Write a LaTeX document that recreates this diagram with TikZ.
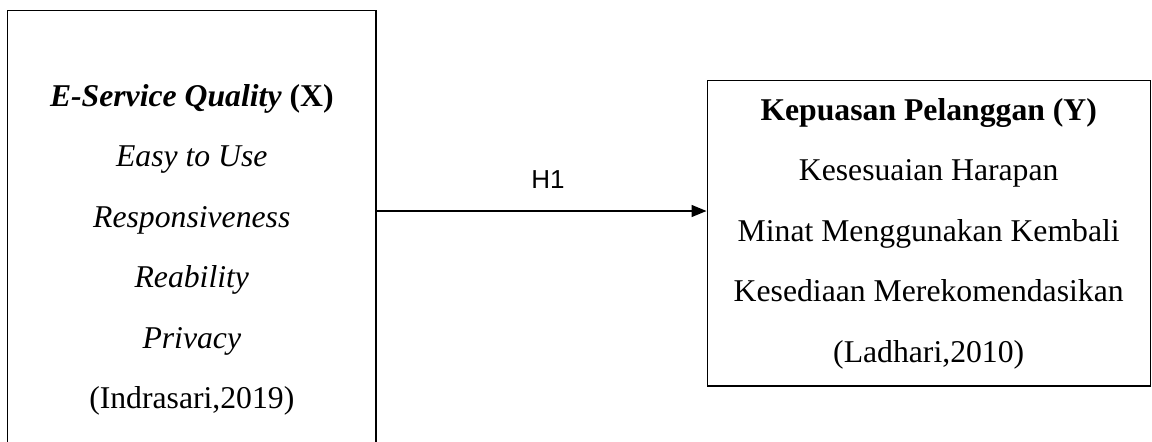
\documentclass[tikz,border=0pt]{standalone}
\usepackage{fontspec}
\setmainfont{Liberation Serif}
\newfontfamily\arialfont{Liberation Sans}
\usetikzlibrary{arrows.meta}
\tikzset{
  boxstyle/.style={draw=black, line width=1.4pt, rectangle, inner sep=0pt, align=center,
    font=\fontsize{31.7}{60.5}\selectfont},
  arr/.style={line width=1.4pt, -{Triangle[length=15pt,width=12pt]}},
  hlabel/.style={font=\arialfont\fontsize{26}{30}\selectfont, inner sep=0pt}
}
\begin{document}
\begin{tikzpicture}[x=1pt,y=-1pt]
\useasboundingbox (0,0) rectangle (1152,442);
\node[boxstyle, minimum width=368.5pt, minimum height=478.6pt] (X) at (191.8,250)
  {\textbf{\textit{E-Service Quality}} \textbf{(X)}\\
   \textit{Easy to Use}\\
   \textit{Responsiveness}\\
   \textit{Reability}\\
   \textit{Privacy}\\
   (Indrasari,2019)};
\node[boxstyle, minimum width=443pt, minimum height=305.5pt] (Y) at (928.7,233.4)
  {\textbf{Kepuasan Pelanggan (Y)}\\
   Kesesuaian Harapan\\
   Minat Menggunakan Kembali\\
   Kesediaan Merekomendasikan\\
   (Ladhari,2010)};
\coordinate (h) at (0,211);
\draw[arr] (X.east |- h) -- (Y.west |- h);
\node[hlabel] (H1) at (548,180) {H1};
\end{tikzpicture}
\end{document}
